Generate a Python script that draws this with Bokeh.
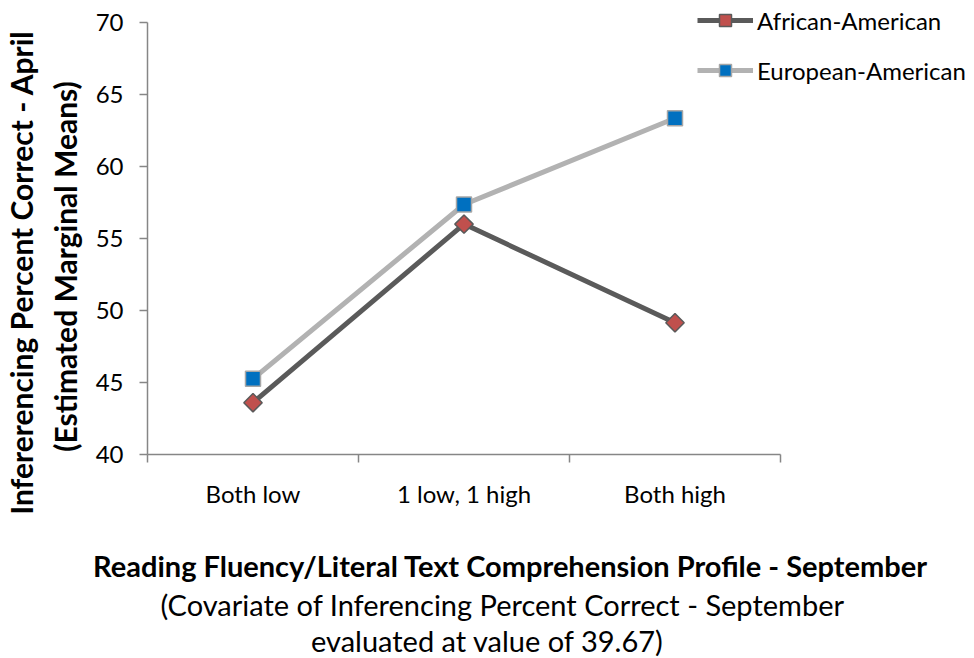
import math
from bokeh.plotting import figure
from bokeh.models import (Range1d, FixedTicker, Label, Legend, LegendItem)
from bokeh.embed import file_html
from bokeh.resources import INLINE

# --- data -------------------------------------------------------------
categories = ["Both low", "1 low, 1 high", "Both high"]
african_american = [43.6, 56.0, 49.15]
european_american = [45.26, 57.36, 63.35]
y_ticks = [40, 45, 50, 55, 60, 65, 70]
series_names = ["African-American", "European-American"]

FONT = "Lato"
W, H = 974, 658
# where the axes' box sits on the page (px from the top-left corner)
LEFT, RIGHT, TOP, BOTTOM = 147, 780, 22, 454
Y_MIN, Y_MAX = y_ticks[0], y_ticks[-1]
N = len(categories)

# categories sit in the middle of unit-wide slots, ticks mark slot edges
xs = [i + 0.5 for i in range(N)]
edges = [float(i) for i in range(N + 1)]

# the frame fills the whole canvas; ranges are widened so that the
# axes' box lands at LEFT..RIGHT / TOP..BOTTOM
kx = (RIGHT - LEFT) / N
ky = (BOTTOM - TOP) / (Y_MAX - Y_MIN)
x_range = Range1d(-LEFT / kx, N + (W - RIGHT) / kx)
y_range = Range1d(Y_MIN - (H - BOTTOM) / ky, Y_MAX + TOP / ky)

p = figure(width=W, height=H, output_backend="svg", toolbar_location=None,
           x_range=x_range, y_range=y_range, min_border=0)
p.title.visible = False
p.outline_line_color = None
p.xgrid.visible = False
p.ygrid.visible = False
p.background_fill_color = "white"
p.border_fill_color = "white"

axis_color = "#868686"

xa = p.xaxis[0]
xa.fixed_location = Y_MIN
xa.bounds = (0, N)
xa.ticker = FixedTicker(ticks=xs, minor_ticks=edges)
xa.major_label_overrides = {x: c for x, c in zip(xs, categories)}
xa.major_tick_out = 0
xa.major_tick_in = 0
xa.minor_tick_out = 8
xa.minor_tick_in = 0
xa.minor_tick_line_color = axis_color
xa.minor_tick_line_width = 1.5
xa.axis_line_color = axis_color
xa.axis_line_width = 1.5
xa.major_label_text_font = FONT
xa.major_label_text_font_size = "24px"
xa.major_label_text_color = "black"
xa.major_label_standoff = 16

ya = p.yaxis[0]
ya.fixed_location = 0
ya.bounds = (Y_MIN, Y_MAX)
ya.ticker = FixedTicker(ticks=y_ticks)
ya.major_tick_out = 8
ya.major_tick_in = 0
ya.minor_tick_out = 0
ya.minor_tick_in = 0
ya.major_tick_line_color = axis_color
ya.major_tick_line_width = 1.5
ya.axis_line_color = axis_color
ya.axis_line_width = 1.5
ya.major_label_text_font = FONT
ya.major_label_text_font_size = "24px"
ya.major_label_text_color = "black"
ya.major_label_standoff = 16

# --- series -------------------------------------------------------------
aa_line = p.line(xs, african_american, line_color="#5a5a5a", line_width=5)
aa_pts = p.scatter(xs, african_american, marker="square", angle=math.pi / 4,
                   size=13, fill_color="#c0504d", line_color="#5a5a5a",
                   line_width=1.5)
ea_line = p.line(xs, european_american, line_color="#b2b2b2", line_width=5)
ea_pts = p.scatter(xs, european_american, marker="square", size=15,
                   fill_color="#0070c0", line_color="#a6a6a6", line_width=1.5)

legend = Legend(items=[LegendItem(label=series_names[0], renderers=[aa_line, aa_pts]),
                       LegendItem(label=series_names[1], renderers=[ea_line, ea_pts])],
                location=(697, H - 85),
                glyph_width=56, glyph_height=30, label_height=30,
                spacing=20, padding=0, margin=0, label_standoff=4,
                border_line_color=None, background_fill_alpha=0,
                label_text_font=FONT, label_text_font_size="24px",
                label_text_color="black")
p.add_layout(legend, "center")


# --- titles (positions given in page pixels from the top-left corner) ---
def add_text(text, px, py, size, bold=False, angle=0.0, align="center",
             baseline="alphabetic"):
    p.add_layout(Label(x=px, y=H - py, x_units="screen", y_units="screen",
                       text=text, angle=angle,
                       text_font=FONT, text_font_size=size,
                       text_font_style="bold" if bold else "normal",
                       text_align=align, text_baseline=baseline,
                       text_color="black"))


add_text("Reading Fluency/Literal Text Comprehension Profile - September",
         510, 565, "29px", bold=True)
add_text("(Covariate of Inferencing Percent Correct - September",
         502, 604, "29px")
add_text("evaluated at value of 39.67)", 487, 640, "29px")

add_text("Infererencing Percent Correct - April", 20, 272, "30px",
         bold=True, angle=math.pi / 2, baseline="middle")
add_text("(Estimated Marginal Means)", 64, 266, "30px",
         bold=True, angle=math.pi / 2, baseline="middle")

open("out.html", "w").write(file_html(p, INLINE))
